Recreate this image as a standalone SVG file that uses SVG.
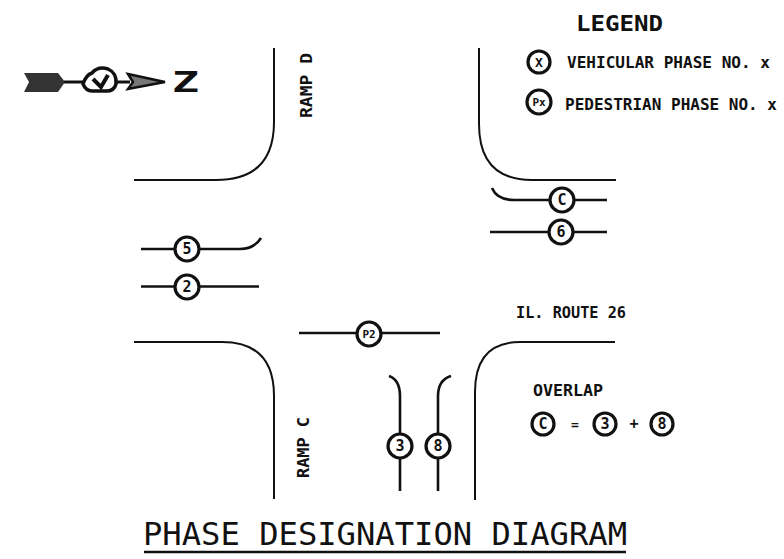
<svg xmlns="http://www.w3.org/2000/svg" width="784" height="559" viewBox="0 0 784 559">
<style>
text{font-family:"DejaVu Sans Mono","Liberation Mono",monospace;font-weight:bold;fill:#111}
.road{fill:none;stroke:#111;stroke-width:2}
.lane{fill:none;stroke:#111;stroke-width:2.6}
.c{fill:#fff;stroke:#111;stroke-width:3.2}
.n{font-size:15px;text-anchor:middle}
.l{font-size:15px}
</style>
<rect width="784" height="559" fill="#fff"/>
<g id="roads">
<path class="road" d="M274 48V122Q274 180 216 180H134"/>
<path class="road" d="M134 342H222Q274 342 274 396V499"/>
<path class="road" d="M479 48V124Q479 180 532 180H616"/>
<path class="road" d="M475 500V392Q475 342 520 342H615"/>
</g>
<g id="connectors">
<path class="lane" d="M141 249H240Q254 249 261 238"/>
<path class="lane" d="M141 286.500H259"/>
<path class="lane" d="M492 188Q497 200 514 200H607"/>
<path class="lane" d="M490 232H607"/>
<path class="lane" d="M299 333H440"/>
<path class="lane" d="M389 376Q400 380 400 396V491"/>
<path class="lane" d="M451 376Q438 380 438 396V491"/>
</g>
<g id="north-arrow">
<path d="M24 73H58L65 82L58 92H24L29 82Z" fill="#333"/>
<path d="M64 82H130" stroke="#111" stroke-width="3"/>
<path d="M83 84Q86 75 92 73Q98 66 108 69Q117 73 116 84Q114 92 104 91H92Q86 91 83 84Z" fill="#fff" stroke="#111" stroke-width="3.500"/>
<path d="M93 79L101 87L108 75" fill="none" stroke="#111" stroke-width="4"/>
<path d="M128 74L165 82L128 89L133 82Z" fill="#777" stroke="#111" stroke-width="2.500"/>
<text x="172" y="92" font-size="29" textLength="27" lengthAdjust="spacingAndGlyphs">Z</text>
</g>
<g id="legend">
<text x="576" y="31" font-size="22" textLength="87" lengthAdjust="spacingAndGlyphs">LEGEND</text>
<circle class="c" cx="539" cy="62" r="11"/>
<text x="539" y="67" font-size="13" text-anchor="middle">X</text>
<text class="l" x="567" y="68" textLength="203" lengthAdjust="spacingAndGlyphs">VEHICULAR PHASE NO. x</text>
<circle class="c" cx="539" cy="102" r="12"/>
<text x="539" y="106" font-size="11" text-anchor="middle">Px</text>
<text class="l" x="565" y="110" textLength="212" lengthAdjust="spacingAndGlyphs">PEDESTRIAN PHASE NO. x</text>
</g>
<g id="phase-5"><circle class="c" cx="187" cy="249" r="12"/><text class="n" x="187" y="254">5</text></g>
<g id="phase-2"><circle class="c" cx="187" cy="287" r="12"/><text class="n" x="187" y="292">2</text></g>
<g id="phase-c"><circle class="c" cx="562" cy="200" r="12"/><text class="n" x="562" y="205">C</text></g>
<g id="phase-6"><circle class="c" cx="561" cy="232" r="12"/><text class="n" x="561" y="237">6</text></g>
<g id="phase-p2"><circle class="c" cx="369" cy="334" r="12"/><text x="369" y="338" font-size="11" text-anchor="middle">P2</text></g>
<g id="phase-3"><circle class="c" cx="400" cy="446" r="12"/><text class="n" x="400" y="451">3</text></g>
<g id="phase-8"><circle class="c" cx="438" cy="446" r="12"/><text class="n" x="438" y="451">8</text></g>
<g id="labels">
<text class="l" transform="translate(312 118) rotate(-90)" textLength="65" lengthAdjust="spacingAndGlyphs">RAMP D</text>
<text class="l" transform="translate(309 478) rotate(-90)" textLength="61" lengthAdjust="spacingAndGlyphs">RAMP C</text>
<text class="l" x="516" y="318" textLength="110" lengthAdjust="spacingAndGlyphs">IL. ROUTE 26</text>
</g>
<g id="overlap">
<text class="l" x="533" y="396" textLength="70" lengthAdjust="spacingAndGlyphs">OVERLAP</text>
<circle class="c" cx="543" cy="424" r="11"/><text class="n" x="543" y="429">C</text>
<text x="575" y="429" font-size="13" text-anchor="middle">=</text>
<circle class="c" cx="605" cy="424" r="11"/><text class="n" x="605" y="429">3</text>
<text x="634" y="429" font-size="15" text-anchor="middle">+</text>
<circle class="c" cx="662" cy="424" r="11"/><text class="n" x="662" y="429">8</text>
</g>
<g id="title">
<text x="143" y="545" font-size="32" style="font-weight:normal" textLength="484" lengthAdjust="spacingAndGlyphs">PHASE DESIGNATION DIAGRAM</text>
<path d="M144 552H626" stroke="#111" stroke-width="2.500"/>
</g>
</svg>
